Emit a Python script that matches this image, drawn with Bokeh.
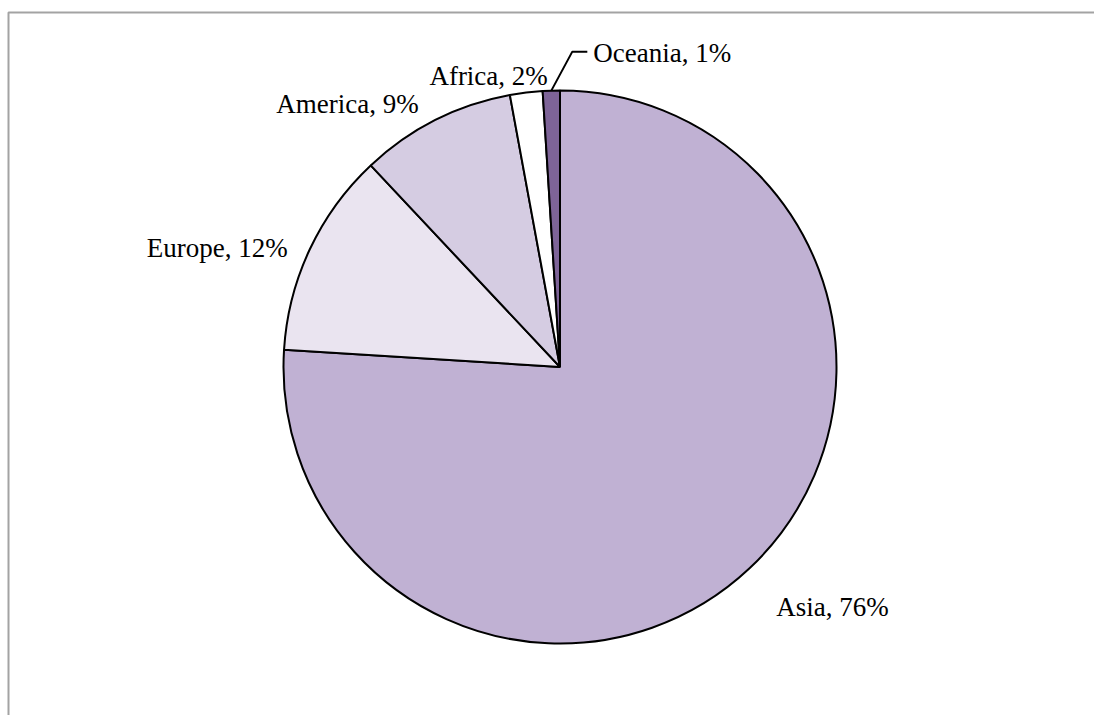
import math
from bokeh.plotting import figure
from bokeh.models import Range1d, BoxAnnotation, ColumnDataSource
from bokeh.core.properties import value
from bokeh.embed import file_html
from bokeh.resources import INLINE

# ---- data ----
regions = ["Asia", "Europe", "America", "Africa", "Oceania"]
shares = [76.0, 12.0, 9.1, 1.9, 1.0]
labels = ["Asia, 76%", "Europe, 12%", "America, 9%", "Africa, 2%", "Oceania, 1%"]
colors = ["#C0B1D3", "#EAE4F0", "#D5CCE2", "#FFFFFF", "#7E6498"]

W, H = 1094, 715
p = figure(width=W, height=H, output_backend="svg", toolbar_location=None,
           x_range=Range1d(0, W), y_range=Range1d(0, H), min_border=0)
p.axis.visible = False
p.grid.visible = False
p.outline_line_color = None
p.background_fill_color = "white"
p.border_fill_color = "white"

# frame
p.add_layout(BoxAnnotation(left=8, right=W + 50, top=H - 12, bottom=-50,
                           fill_color=None, fill_alpha=0, line_color="#A3A3A3",
                           line_alpha=1.0, line_width=2))

cx, cy, R = 559.5, H - 366.5, 276.5
total = sum(shares)
starts, ends, mids = [], [], []
cum = 0.0
for s in shares:
    a0 = math.pi / 2 - 2 * math.pi * cum / total
    cum += s
    a1 = math.pi / 2 - 2 * math.pi * cum / total
    starts.append(a0)
    ends.append(a1)
    mids.append((a0 + a1) / 2)

src = ColumnDataSource(dict(region=regions, start=starts, end=ends, color=colors))
p.wedge(x=cx, y=cy, radius=R, start_angle="start", end_angle="end",
        direction="clock", fill_color="color", line_color="black",
        line_width=2, source=src)

# label layout (alignment and pixel nudges relative to a point at 1.1 R)
aligns = ["left", "right", "right", "right", "left"]
nudges = [(8, -18), (3, -11), (-4, -8), (25, -11), (0, 0)]
lx, ly = [], []
for i, m in enumerate(mids):
    ax = cx + 1.1 * R * math.cos(m)
    ay = cy + 1.1 * R * math.sin(m)
    lx.append(ax + nudges[i][0])
    ly.append(ay + nudges[i][1])

# Oceania leader line
m = mids[4]
ex, ey = cx + R * math.cos(m), cy + R * math.sin(m)
elx, ely = ex + 21, ey + 39
p.line([ex, elx, elx + 15], [ey, ely, ely], line_color="black", line_width=2)
lx[4] = elx + 21
ly[4] = ely - 1

lsrc = ColumnDataSource(dict(x=lx, y=ly, text=labels, align=aligns))
p.text(x="x", y="y", text="text", text_align="align", text_baseline="alphabetic",
       text_font=value("Liberation Serif"), text_font_size="27px",
       text_color="black", source=lsrc)

open("out.html", "w").write(file_html(p, INLINE))
